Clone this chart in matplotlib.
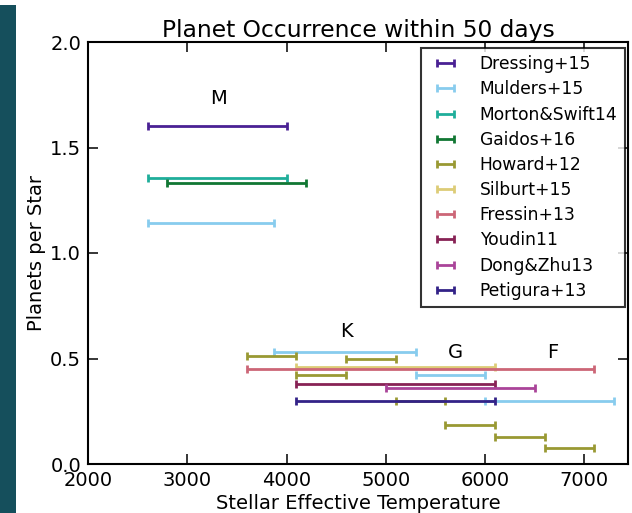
import matplotlib
matplotlib.use("Agg")
import matplotlib.pyplot as plt
from matplotlib.patches import Rectangle
import numpy as np

# ---- data: (Teff min, Teff max, planets per star) ----
surveys = ["Dressing+15", "Mulders+15", "Morton&Swift14", "Gaidos+16", "Howard+12",
           "Silburt+15", "Fressin+13", "Youdin11", "Dong&Zhu13", "Petigura+13"]
colors = ["#4a2194", "#88CCEE", "#1fae9a", "#117733", "#999933",
          "#DDCC77", "#CC6677", "#882255", "#AA4499", "#332288"]

dressing_tmin = [2600]; dressing_tmax = [4000]; dressing_rate = [1.60]
mulders_tmin = [2600, 3870, 5300, 6000]; mulders_tmax = [3870, 5300, 6000, 7300]
mulders_rate = [1.14, 0.53, 0.42, 0.30]
morton_tmin = [2600]; morton_tmax = [4000]; morton_rate = [1.355]
gaidos_tmin = [2800]; gaidos_tmax = [4200]; gaidos_rate = [1.33]
howard_tmin = [3600, 4100, 4600, 5100, 5600, 6100, 6600]
howard_tmax = [4100, 4600, 5100, 5600, 6100, 6600, 7100]
howard_rate = [0.51, 0.42, 0.50, 0.30, 0.185, 0.13, 0.075]
silburt_tmin = [4100]; silburt_tmax = [6100]; silburt_rate = [0.46]
fressin_tmin = [3600]; fressin_tmax = [7100]; fressin_rate = [0.45]
youdin_tmin = [4100]; youdin_tmax = [6100]; youdin_rate = [0.38]
dong_tmin = [5000]; dong_tmax = [6500]; dong_rate = [0.36]
petigura_tmin = [4100]; petigura_tmax = [6100]; petigura_rate = [0.30]

data = [
    (dressing_tmin, dressing_tmax, dressing_rate),
    (mulders_tmin, mulders_tmax, mulders_rate),
    (morton_tmin, morton_tmax, morton_rate),
    (gaidos_tmin, gaidos_tmax, gaidos_rate),
    (howard_tmin, howard_tmax, howard_rate),
    (silburt_tmin, silburt_tmax, silburt_rate),
    (fressin_tmin, fressin_tmax, fressin_rate),
    (youdin_tmin, youdin_tmax, youdin_rate),
    (dong_tmin, dong_tmax, dong_rate),
    (petigura_tmin, petigura_tmax, petigura_rate),
]

spectral_types = ["M", "K", "G", "F"]
spectral_x = [3310, 4600, 5700, 6680]
spectral_y = [1.73, 0.63, 0.53, 0.53]

xticks = [2000, 3000, 4000, 5000, 6000, 7000]
yticks = [0.0, 0.5, 1.0, 1.5, 2.0]

W, H = 632, 513
fig = plt.figure(figsize=(W / 100, H / 100), dpi=100)
fig.patch.set_facecolor("white")
fig.patches.append(Rectangle((0, 0), 16 / W, (H - 5) / H, transform=fig.transFigure,
                             facecolor="#154f5c", edgecolor="none", zorder=0))

ax = fig.add_axes([88 / W, 1 - 464 / H, (628 - 88) / W, (464 - 42) / H])

for name, col, (tmin, tmax, rate) in zip(surveys, colors, data):
    tmin = np.array(tmin, float); tmax = np.array(tmax, float)
    xc = (tmin + tmax) / 2
    xe = (tmax - tmin) / 2
    ax.errorbar(xc, rate, xerr=xe, fmt="none", ecolor=col, elinewidth=2,
                capsize=3, capthick=2, label=name)

for s, x, y in zip(spectral_types, spectral_x, spectral_y):
    ax.text(x, y, s, fontsize=14, ha="center", va="center")

ax.set_xlim(2000, 7440)
ax.set_ylim(0, 2.0)
ax.set_xticks(xticks)
ax.set_yticks(yticks)
ax.tick_params(direction="in", top=True, right=True, length=7, width=1.1,
               labelsize=14, pad=5)
for sp in ax.spines.values():
    sp.set_linewidth(1.5)

ax.set_title("Planet Occurrence within 50 days", fontsize=16.8, pad=3.5)
ax.set_xlabel("Stellar Effective Temperature", fontsize=14, labelpad=3)
ax.set_ylabel("Planets per Star", fontsize=14, labelpad=3)

leg = ax.legend(loc="upper right", bbox_to_anchor=(1 - 3.5 / 540, 1 - 6 / 422),
                borderaxespad=0, fontsize=12.3, frameon=True, fancybox=False,
                edgecolor="black", labelspacing=0.42, borderpad=0.42,
                handletextpad=1.0)
leg.get_frame().set_linewidth(1.5)

fig.savefig("out.png", dpi=100)
